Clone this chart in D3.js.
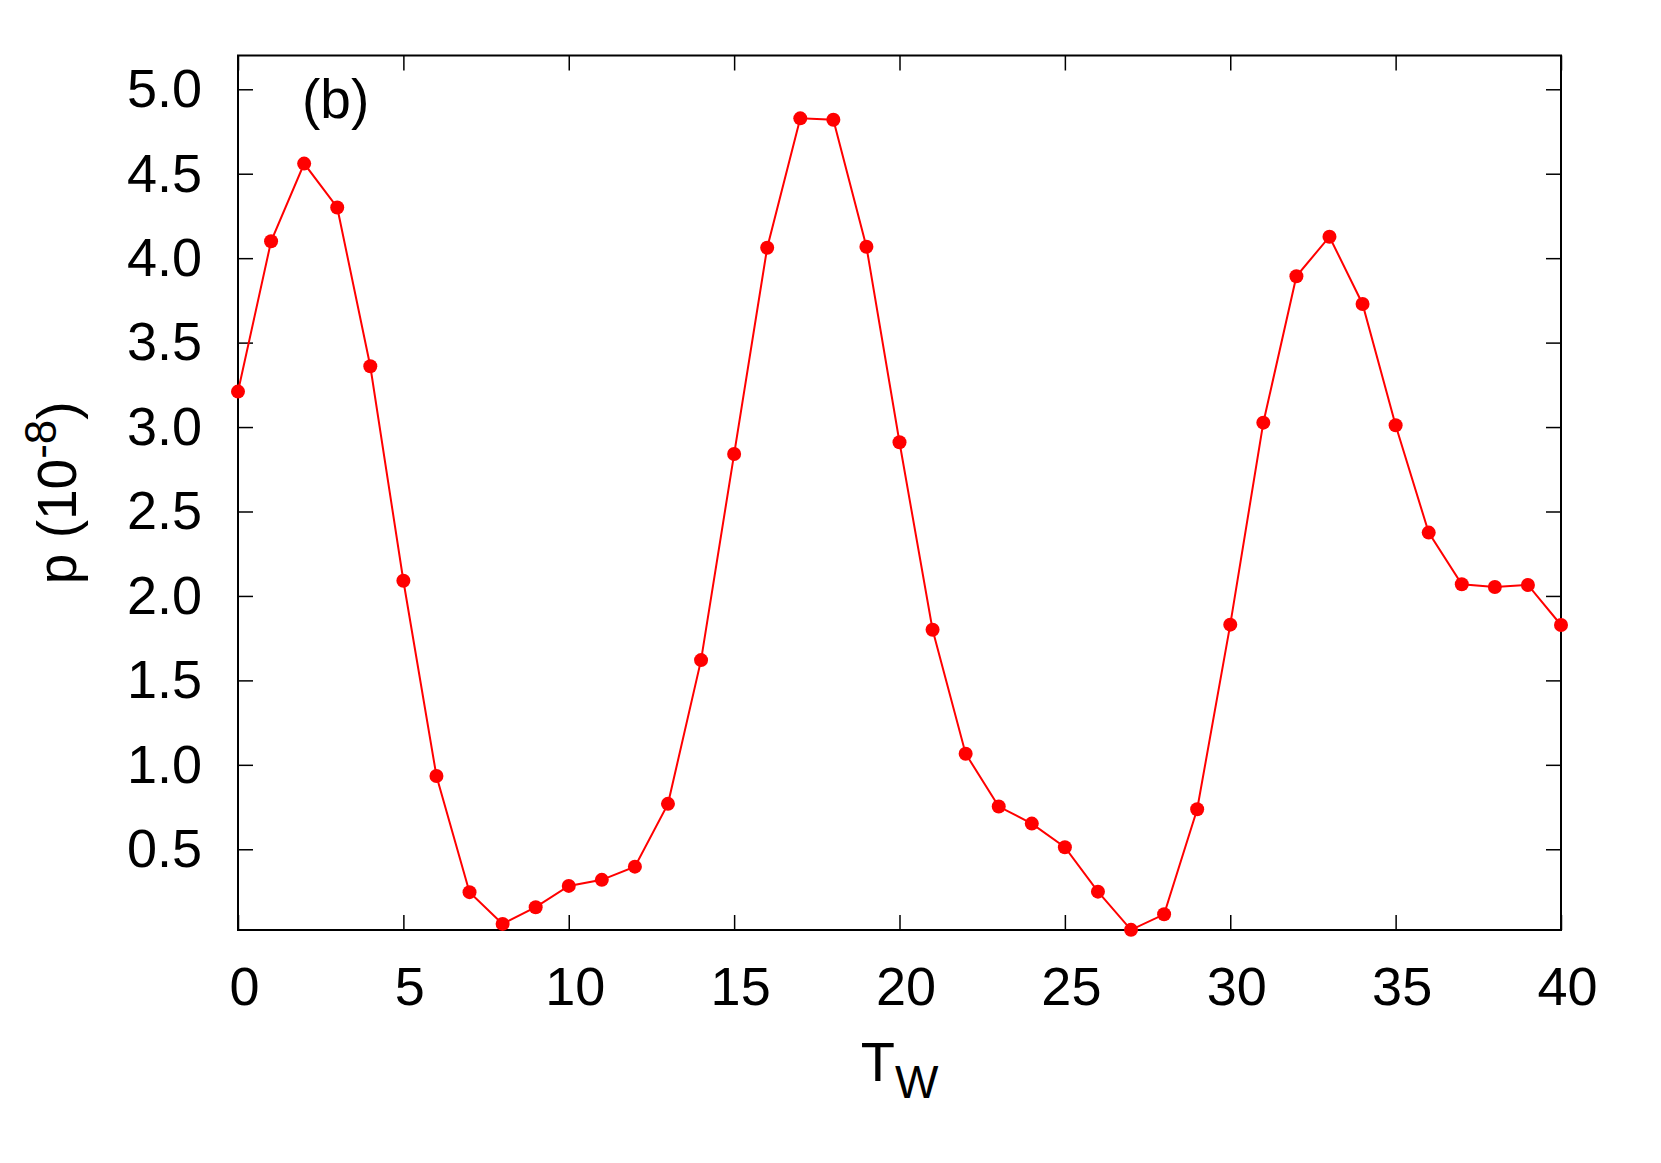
<!DOCTYPE html>
<html>
<head>
<meta charset="utf-8">
<script src="https://cdn.jsdelivr.net/npm/d3@7"></script>
<style>
  body { margin: 0; background: #fff; }
  svg { display: block; font-family: "Liberation Sans", Arial, sans-serif; }
</style>
</head>
<body>
<div class="chart"></div>
<script>
'use strict';
// T_W values and measured p (in units of 1e-8)
var tw = [0, 1, 2, 3, 4, 5, 6, 7, 8, 9, 10, 11, 12, 13, 14, 15, 16, 17, 18, 19, 20,
    21, 22, 23, 24, 25, 26, 27, 28, 29, 30, 31, 32, 33, 34, 35, 36, 37, 38, 39, 40];
var pValues = [3.21, 4.10, 4.56, 4.30, 3.36, 2.09, 0.934, 0.246, 0.058, 0.157, 0.283,
    0.319, 0.397, 0.769, 1.62, 2.84, 4.062, 4.828, 4.82, 4.068, 2.91,
    1.80, 1.066, 0.753, 0.652, 0.512, 0.249, 0.023, 0.115, 0.737, 1.83,
    3.026, 3.893, 4.127, 3.729, 3.011, 2.375, 2.069, 2.053, 2.065, 1.828];
var xTicks = [0, 5, 10, 15, 20, 25, 30, 35, 40];
var yTicks = [0.5, 1.0, 1.5, 2.0, 2.5, 3.0, 3.5, 4.0, 4.5, 5.0];
var xRange = [0, 40];
var yRange = [0.022, 5.2];

var width = 1661, height = 1163;
var margin = {top: 55.5, right: 100, bottom: 233, left: 238};
var w = width - margin.left - margin.right,
    h = height - margin.top - margin.bottom;

var svg = d3.select(".chart").append("svg")
    .attr("width", width)
    .attr("height", height);

var g = svg.append("g")
    .attr("transform", "translate(" + margin.left + "," + margin.top + ")");

var x = d3.scaleLinear().domain(xRange).range([0, w]);
var y = d3.scaleLinear().domain(yRange).range([h, 0]);

function styleAxis(sel) {
    sel.select(".domain").remove();
    sel.selectAll("line").attr("stroke", "#000").attr("stroke-width", 1.5);
    sel.selectAll("text").attr("fill", "#000").style("font-size", "54px");
}

// bottom axis with labels
g.append("g")
    .attr("transform", "translate(0," + h + ")")
    .call(d3.axisBottom(x).tickValues(xTicks).tickSizeInner(-15).tickSizeOuter(0)
        .tickPadding(36.5).tickFormat(d3.format("d")))
    .call(styleAxis)
    .selectAll("text").attr("dx", 6);

// left axis with labels
g.append("g")
    .call(d3.axisLeft(y).tickValues(yTicks).tickSizeInner(-15).tickSizeOuter(0)
        .tickPadding(36).tickFormat(d3.format(".1f")))
    .call(styleAxis);

// mirrored ticks
g.append("g")
    .call(d3.axisTop(x).tickValues(xTicks).tickSizeInner(-15).tickSizeOuter(0).tickFormat(""))
    .call(styleAxis);
g.append("g")
    .attr("transform", "translate(" + w + ",0)")
    .call(d3.axisRight(y).tickValues(yTicks).tickSizeInner(-15).tickSizeOuter(0).tickFormat(""))
    .call(styleAxis);

// frame
g.append("rect")
    .attr("width", w)
    .attr("height", h)
    .attr("fill", "none")
    .attr("stroke", "#000")
    .attr("stroke-width", 2);

var data = tw.map(function (d, i) {
    return {t: d, p: pValues[i]};
});

var line = d3.line()
    .x(function (d) { return x(d.t); })
    .y(function (d) { return y(d.p); });

g.append("path")
    .datum(data)
    .attr("fill", "none")
    .attr("stroke", "#ff0000")
    .attr("stroke-width", 2)
    .attr("d", line);

g.selectAll(".pt")
    .data(data)
    .enter().append("circle")
    .attr("class", "pt")
    .attr("cx", function (d) { return x(d.t); })
    .attr("cy", function (d) { return y(d.p); })
    .attr("r", 7)
    .attr("fill", "#ff0000");

// panel label
svg.append("text")
    .attr("x", 302)
    .attr("y", 118)
    .style("font-size", "55px")
    .text("(b)");

// x title
var xt = svg.append("text")
    .attr("x", margin.left + w / 2)
    .attr("y", 1081)
    .attr("text-anchor", "middle")
    .style("font-size", "56px");
xt.append("tspan").text("T");
xt.append("tspan").attr("dy", 17).style("font-size", "46px").text("W");

// y title
var yt = svg.append("text")
    .attr("transform", "translate(76," + (margin.top + h / 2) + ") rotate(-90)")
    .attr("text-anchor", "middle")
    .style("font-size", "55px");
yt.append("tspan").text("p (10");
yt.append("tspan").attr("dy", -20).style("font-size", "44px").text("-8");
yt.append("tspan").attr("dy", 20).text(")");
</script>
</body>
</html>
